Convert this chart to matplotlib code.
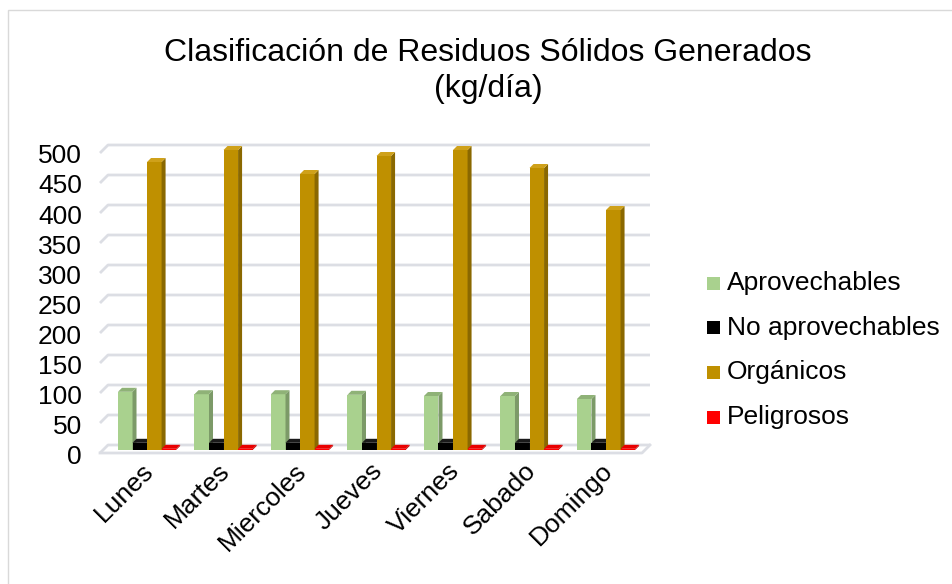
import matplotlib.pyplot as plt
from matplotlib.patches import Polygon, Rectangle
from matplotlib.transforms import ScaledTranslation

plt.rcParams['font.family'] = ['Liberation Sans', 'DejaVu Sans']

# Data (kg/dia)
dias = ["Lunes", "Martes", "Miercoles", "Jueves", "Viernes", "Sabado", "Domingo"]
series = ["Aprovechables", "No aprovechables", "Orgánicos", "Peligrosos"]
aprovechables = [97, 93, 93, 92, 90, 90, 85]
no_aprovechables = [12, 12, 12, 12, 12, 12, 12]
organicos = [480, 500, 460, 490, 500, 470, 400]
peligrosos = [2, 2, 2, 2, 2, 2, 2]
valores = [aprovechables, no_aprovechables, organicos, peligrosos]

# front, side, top colours per series
colores = [
    ("#A9D18E", "#7C9A68", "#8FB277"),
    ("#000000", "#111111", "#1A1A1A"),
    ("#BF9000", "#8A6800", "#CFA11A"),
    ("#FF0000", "#B80000", "#E80000"),
]
grid_color = "#DCDEE4"

W, H = 953, 584
fig = plt.figure(figsize=(W / 100, H / 100), dpi=100)

# axes geometry in pixels
ax_left, ax_right = 100, 650
ax_bottom_px, ax_top_px = 453, 138  # from top of figure
xmin, xmax = -0.615, 6.575
ymin, ymax = -5, 520
ax = fig.add_axes([ax_left / W, (H - ax_bottom_px) / H,
                   (ax_right - ax_left) / W, (ax_bottom_px - ax_top_px) / H])
ax.set_xlim(xmin, xmax)
ax.set_ylim(ymin, ymax)
px_x = (ax_right - ax_left) / (xmax - xmin)
px_y = (ax_bottom_px - ax_top_px) / (ymax - ymin)

def dx(p):
    return p / px_x

def dy(p):
    return p / px_y

# walls / gridlines
yticks = list(range(0, 501, 50))
wall_dx = dx(8)
front_dy = -dy(3)
back_dy = dy(5)
for v in yticks:
    ax.plot([xmin, xmin + wall_dx, xmax], [v + front_dy, v + back_dy, v + back_dy],
            color=grid_color, lw=2, solid_capstyle='butt', clip_on=False, zorder=1)
ax.plot([xmin, xmax - wall_dx, xmax], [front_dy, front_dy, back_dy],
        color=grid_color, lw=2, clip_on=False, zorder=1)

# bars with pseudo 3D faces
bw = 0.19
side_dx = dx(4)
side_dy = dy(4)
z = 2
for i in range(len(dias)):
    for s, vals in enumerate(valores):
        x0 = i + (s - 2) * bw
        x1 = x0 + bw
        v = vals[i]
        front, side, top = colores[s]
        ax.add_patch(Rectangle((x0, 0), bw, v, facecolor=front, edgecolor='none', zorder=z))
        ax.add_patch(Polygon([(x1, 0), (x1 + side_dx, side_dy), (x1 + side_dx, v + side_dy), (x1, v)],
                             closed=True, facecolor=side, edgecolor='none', zorder=z))
        ax.add_patch(Polygon([(x0, v), (x1, v), (x1 + side_dx, v + side_dy), (x0 + side_dx, v + side_dy)],
                             closed=True, facecolor=top, edgecolor='none', zorder=z))
        z += 1

for sp in ax.spines.values():
    sp.set_visible(False)

ax.set_yticks(yticks)
ax.set_yticklabels([str(v) for v in yticks], fontsize=19)
ax.tick_params(axis='y', length=0, pad=13)
for lab in ax.get_yticklabels():
    lab.set_transform(lab.get_transform() + ScaledTranslation(0, -4 / 100, fig.dpi_scale_trans))

ax.set_xticks(range(len(dias)))
ax.set_xticklabels(dias, fontsize=19, rotation=45, ha='right', va='top', rotation_mode='anchor')
ax.tick_params(axis='x', length=0, pad=4)
for lab in ax.get_xticklabels():
    lab.set_transform(lab.get_transform() + ScaledTranslation(-6 / 100, 0, fig.dpi_scale_trans))

# title
fig.text(488 / W, 1 - 71 / H, "Clasificación de Residuos Sólidos Generados\n(kg/día)",
         ha='center', va='center', fontsize=23, linespacing=1.3)

# legend
for k, name in enumerate(series):
    yc = 283 + k * 44.7
    fig.patches.append(Rectangle((707 / W, 1 - (yc + 6.5) / H), 13 / W, 13 / H,
                                 transform=fig.transFigure, facecolor=colores[k][0],
                                 edgecolor='none'))
    fig.text(727 / W, 1 - yc / H, name, ha='left', va='center', fontsize=19)

# chart border
fig.patches.append(Rectangle((8 / W, -0.1), 2, 1 - 10 / H + 0.1, transform=fig.transFigure,
                             facecolor='none', edgecolor='#D9D9D9', lw=1))

fig.savefig("out.png", dpi=100)
